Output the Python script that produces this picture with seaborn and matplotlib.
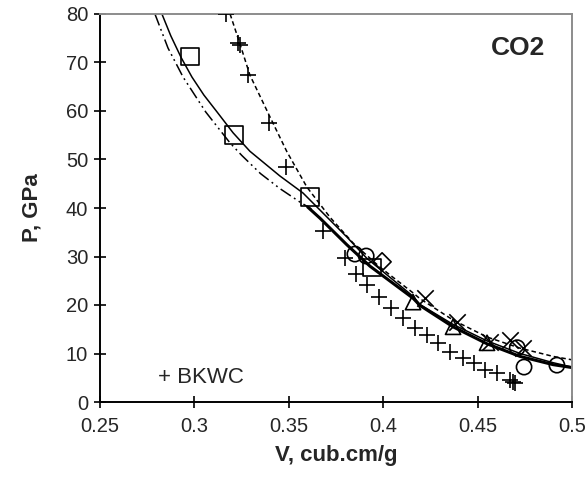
import numpy as np
import pandas as pd
import matplotlib
matplotlib.use('Agg')
import matplotlib.pyplot as plt
import seaborn as sns

# model curves
thin_v = [0.2828, 0.2875, 0.2930, 0.2987, 0.305, 0.312, 0.3205, 0.3294, 0.3453, 0.3575, 0.3639,
          0.3808, 0.3914, 0.4158, 0.4195, 0.437, 0.455, 0.4725, 0.49, 0.5]
thin_p = [80.0, 75.5, 71.0, 67.0, 63.3, 59.8, 55.5, 51.7, 46.6, 43.1, 40.6,
          34.0, 29.6, 21.8, 20.1, 16.0, 12.6, 10.0, 8.1, 7.2]

dashdot_v = [0.2791, 0.2860, 0.294, 0.3060, 0.3189, 0.3252, 0.335, 0.3453, 0.356, 0.362]
dashdot_p = [80.0, 73.0, 67.0, 59.8, 53.4, 50.8, 47.1, 44.0, 41.2, 39.8]

thick_v = [0.360, 0.3665, 0.3808, 0.393, 0.4158, 0.4195, 0.437, 0.455, 0.4725, 0.49, 0.5]
thick_p = [40.2, 37.9, 32.4, 28.0, 21.4, 19.9, 15.5, 12.0, 9.4, 7.7, 7.1]

dash_v = [0.3189, 0.324, 0.3294, 0.34, 0.349, 0.3596, 0.3718, 0.384, 0.3983, 0.4158,
          0.4195, 0.437, 0.455, 0.4725, 0.49, 0.5]
dash_p = [80.0, 74.0, 67.4, 58.8, 51.6, 44.3, 38.1, 32.8, 27.8, 22.5,
          21.3, 16.9, 13.4, 11.1, 9.4, 8.7]

# experimental points
sq_v = [0.2977, 0.321, 0.3612, 0.394]
sq_p = [71.2, 55.0, 42.3, 27.7]

circ_v = [0.385, 0.391, 0.471, 0.4746, 0.492]
circ_p = [30.5, 30.1, 11.2, 7.2, 7.6]

diam_v = [0.3994]
diam_p = [28.9]

tri_v = [0.4158, 0.437, 0.455]
tri_p = [20.6, 15.5, 12.2]

x_v = [0.422, 0.439, 0.4566, 0.4672, 0.474]
x_p = [21.4, 16.5, 12.4, 12.8, 11.1]

bkwc_v = [0.3167, 0.3231, 0.324, 0.3284, 0.3395, 0.3485, 0.368, 0.3798, 0.3856, 0.3915,
          0.3978, 0.4041, 0.4105, 0.4168, 0.4232, 0.429, 0.4354, 0.4423, 0.4481, 0.4539,
          0.4603, 0.4672, 0.4688, 0.470]
bkwc_p = [80.0, 74.0, 73.6, 67.4, 57.5, 48.5, 35.2, 29.7, 26.4, 24.1,
          21.6, 19.4, 17.3, 15.3, 13.8, 12.2, 10.3, 9.1, 8.0, 6.6,
          6.0, 4.5, 4.1, 3.9]

x_ticks = [0.25, 0.3, 0.35, 0.4, 0.45, 0.5]
x_ticklabels = ['0.25', '0.3', '0.35', '0.4', '0.45', '0.5']
y_ticks = [0, 10, 20, 30, 40, 50, 60, 70, 80]

sns.set_style('white')
plt.rcParams['font.family'] = ['Liberation Sans', 'DejaVu Sans']

fig = plt.figure(figsize=(5.86, 4.9), dpi=100)
ax = fig.add_axes([100 / 586, 1 - 402 / 490, 472 / 586, 388 / 490])

sns.lineplot(x=thin_v, y=thin_p, ax=ax, color='black', lw=1.1, sort=False, estimator=None)
sns.lineplot(x=dashdot_v, y=dashdot_p, ax=ax, color='black', lw=1.1, sort=False,
             estimator=None).lines[-1].set_dashes([8, 2.5, 1.2, 2.5, 1.2, 2.5])
sns.lineplot(x=thick_v, y=thick_p, ax=ax, color='black', lw=2.2, sort=False, estimator=None)
sns.lineplot(x=dash_v, y=dash_p, ax=ax, color='black', lw=1.1, sort=False,
             estimator=None).lines[-1].set_dashes([3, 2])

open_kw = dict(facecolors='none', edgecolor='black', linewidth=1.2, ax=ax, zorder=5)
sns.scatterplot(x=sq_v, y=sq_p, marker='s', s=160, **open_kw)
sns.scatterplot(x=circ_v, y=circ_p, marker='o', s=120, **open_kw)
sns.scatterplot(x=diam_v, y=diam_p, marker='D', s=85, **open_kw)
sns.scatterplot(x=tri_v, y=tri_p, marker='^', s=120, **open_kw)
sns.scatterplot(x=x_v, y=x_p, marker='x', s=140, color='black', linewidth=1.2, ax=ax, zorder=5)
sns.scatterplot(x=bkwc_v, y=bkwc_p, marker='+', s=120, color='black', linewidth=1.2,
                ax=ax, zorder=5)

ax.set_xlim(0.25, 0.5)
ax.set_ylim(0, 80)
ax.set_xticks(x_ticks)
ax.set_xticklabels(x_ticklabels)
ax.set_yticks(y_ticks)
ax.tick_params(axis='both', direction='inout', length=9, width=1.2, color='black',
               labelsize=14.5, bottom=True, left=True, top=False, right=False, pad=6)
ax.tick_params(axis='y', pad=4)

for side in ['left', 'bottom']:
    ax.spines[side].set_color('black')
    ax.spines[side].set_linewidth(1.4)
for side in ['top', 'right']:
    ax.spines[side].set_color('#8c8c8c')
    ax.spines[side].set_linewidth(1.4)
    ax.spines[side].set_visible(True)

ax.set_xlabel('V, cub.cm/g', fontsize=16, fontweight='bold', labelpad=7)
ax.set_ylabel('P, GPa', fontsize=16, fontweight='bold', labelpad=17)

ax.text(0.2805, 5.0, '+ BKWC', fontsize=16, va='center', ha='left')
ax.text(0.486, 73, 'CO2', fontsize=19, fontweight='bold', va='center', ha='right')

fig.savefig('out.png', dpi=100)
